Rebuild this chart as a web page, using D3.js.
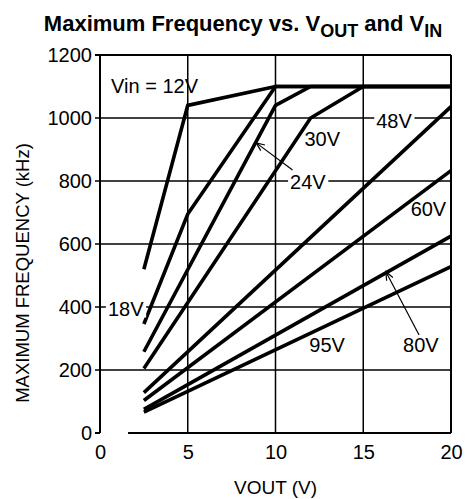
<!DOCTYPE html>
<html>
<head>
<meta charset="utf-8">
<script src="https://cdn.jsdelivr.net/npm/d3@7"></script>
<style>
  html, body { margin: 0; padding: 0; background: #fff; }
  svg { display: block; font-family: "Liberation Sans", Arial, Helvetica, sans-serif; }
</style>
</head>
<body>
<svg id="chart" width="468" height="499"></svg>
<script>
// ---- data ----
const vinLabels = ["12V", "18V", "24V", "30V", "48V", "60V", "80V", "95V"];
const vout12 = [2.5, 5, 10, 20];
const freq12 = [520, 1040, 1100, 1100];
const vout18 = [2.5, 5, 10, 20];
const freq18 = [346, 695, 1100, 1100];
const vout24 = [2.5, 10, 12, 20];
const freq24 = [258, 1040, 1100, 1100];
const vout30 = [2.5, 12, 15, 20];
const freq30 = [205, 1000, 1100, 1100];
const vout48 = [2.5, 20];
const freq48 = [128, 1036];
const vout60 = [2.5, 20];
const freq60 = [103, 833];
const vout80 = [2.5, 20];
const freq80 = [75, 625];
const vout95 = [2.5, 20];
const freq95 = [66, 528];
const xTicks = [0, 5, 10, 15, 20];
const yTicks = [0, 200, 400, 600, 800, 1000, 1200];

const seriesVout = [vout12, vout18, vout24, vout30, vout48, vout60, vout80, vout95];
const seriesFreq = [freq12, freq18, freq24, freq30, freq48, freq60, freq80, freq95];

// ---- layout ----
const W = 468, H = 499;
const plot = { left: 100, right: 451, top: 55, bottom: 433 };
const x = d3.scaleLinear().domain([0, 20]).range([plot.left, plot.right]);
const y = d3.scaleLinear().domain([0, 1200]).range([plot.bottom, plot.top]);

const svg = d3.select("#chart");

// grid
const grid = svg.append("g").attr("stroke", "#000").attr("stroke-width", 1.5);
grid.selectAll("line.h").data(yTicks.filter(v => v > 0 && v < 1200)).join("line")
  .attr("x1", x(0) - 5).attr("x2", x(20)).attr("y1", d => y(d)).attr("y2", d => y(d));
grid.selectAll("line.v").data(xTicks.filter(v => v > 0 && v < 20)).join("line")
  .attr("x1", d => x(d)).attr("x2", d => x(d)).attr("y1", y(0)).attr("y2", y(1200));

// frame
const frame = svg.append("g").attr("stroke", "#000").attr("stroke-width", 2).attr("fill", "none");
frame.append("line").attr("x1", x(0) - 5).attr("x2", x(20)).attr("y1", y(1200)).attr("y2", y(1200));
frame.append("line").attr("x1", x(20)).attr("x2", x(20)).attr("y1", y(1200)).attr("y2", y(0));
frame.append("line").attr("x1", x(0)).attr("x2", x(0)).attr("y1", y(1200)).attr("y2", y(0));
frame.append("line").attr("x1", x(1.6)).attr("x2", x(20)).attr("y1", y(0)).attr("y2", y(0));
frame.append("line").attr("x1", x(0) - 5).attr("x2", x(0)).attr("y1", y(0)).attr("y2", y(0));

// axes tick labels
const yAxis = d3.axisLeft(y).tickValues(yTicks).tickSize(0).tickPadding(8).tickFormat(d3.format("d"));
const gy = svg.append("g").attr("transform", `translate(${plot.left},0)`).call(yAxis);
gy.select(".domain").remove();
gy.selectAll("text").attr("font-size", 20).attr("fill", "#000")
  .attr("font-family", '"Liberation Sans", Arial, sans-serif');

const xAxis = d3.axisBottom(x).tickValues(xTicks).tickSize(0).tickPadding(12).tickFormat(d3.format("d"));
const gx = svg.append("g").attr("transform", `translate(0,${plot.bottom})`).call(xAxis);
gx.select(".domain").remove();
gx.selectAll("text").attr("font-size", 20).attr("fill", "#000")
  .attr("font-family", '"Liberation Sans", Arial, sans-serif');

// curves
const line = d3.line().x(d => x(d[0])).y(d => y(d[1]));
const curves = seriesVout.map((vs, i) => vs.map((v, j) => [v, seriesFreq[i][j]]));
svg.append("g").selectAll("path").data(curves).join("path")
  .attr("d", line).attr("fill", "none").attr("stroke", "#000")
  .attr("stroke-width", 3.6).attr("stroke-linejoin", "miter").attr("stroke-linecap", "butt");

// annotations: [text, vout, freq, whiteBackground]
const annotations = [
  ["Vin = " + vinLabels[0], 0.63, 1079, false],
  [vinLabels[1], 0.45, 373, true],
  [vinLabels[2], 10.83, 776, true],
  [vinLabels[3], 11.65, 912, false],
  [vinLabels[4], 15.74, 969, true],
  [vinLabels[5], 17.7, 689, false],
  [vinLabels[6], 17.27, 257, false],
  [vinLabels[7], 11.93, 257, false]
];
const ann = svg.append("g");
annotations.forEach(a => {
  const t = ann.append("text").attr("x", x(a[1])).attr("y", y(a[2]))
    .attr("font-size", 20).attr("fill", "#000").text(a[0]);
  if (a[3]) {
    const b = t.node().getBBox();
    ann.insert("rect", "text").attr("x", b.x - 2).attr("y", b.y + 2)
      .attr("width", b.width + 4).attr("height", b.height - 4).attr("fill", "#fff");
  }
});

// arrows: [fromVout, fromFreq, toVout, toFreq]
const arrows = [
  [10.97, 835, 8.9, 921],
  [18.18, 311, 16.29, 512]
];
const ag = svg.append("g").attr("stroke", "#000").attr("stroke-width", 1.2).attr("fill", "none");
arrows.forEach(a => {
  const x1 = x(a[0]), y1 = y(a[1]), x2 = x(a[2]), y2 = y(a[3]);
  ag.append("line").attr("x1", x1).attr("y1", y1).attr("x2", x2).attr("y2", y2);
  const ang = Math.atan2(y1 - y2, x1 - x2), L = 9, s = 0.4;
  ag.append("path").attr("d",
    `M${x2 + L * Math.cos(ang + s)},${y2 + L * Math.sin(ang + s)}L${x2},${y2}L${x2 + L * Math.cos(ang - s)},${y2 + L * Math.sin(ang - s)}`);
});

// axis titles
svg.append("text").attr("x", (plot.left + plot.right) / 2).attr("y", 494)
  .attr("text-anchor", "middle").attr("font-size", 19).text("VOUT (V)");
svg.append("text").attr("transform", `translate(29,273) rotate(-90)`)
  .attr("text-anchor", "middle").attr("font-size", 18.5).text("MAXIMUM FREQUENCY (kHz)");

// chart title
const title = svg.append("text").attr("x", 243).attr("y", 31).attr("text-anchor", "middle")
  .attr("font-size", 22).attr("font-weight", "bold");
title.append("tspan").text("Maximum Frequency vs. V");
title.append("tspan").attr("font-size", 18).attr("dy", 6).text("OUT");
title.append("tspan").attr("dy", -6).text(" and V");
title.append("tspan").attr("font-size", 18).attr("dy", 6).text("IN");
</script>
</body>
</html>
